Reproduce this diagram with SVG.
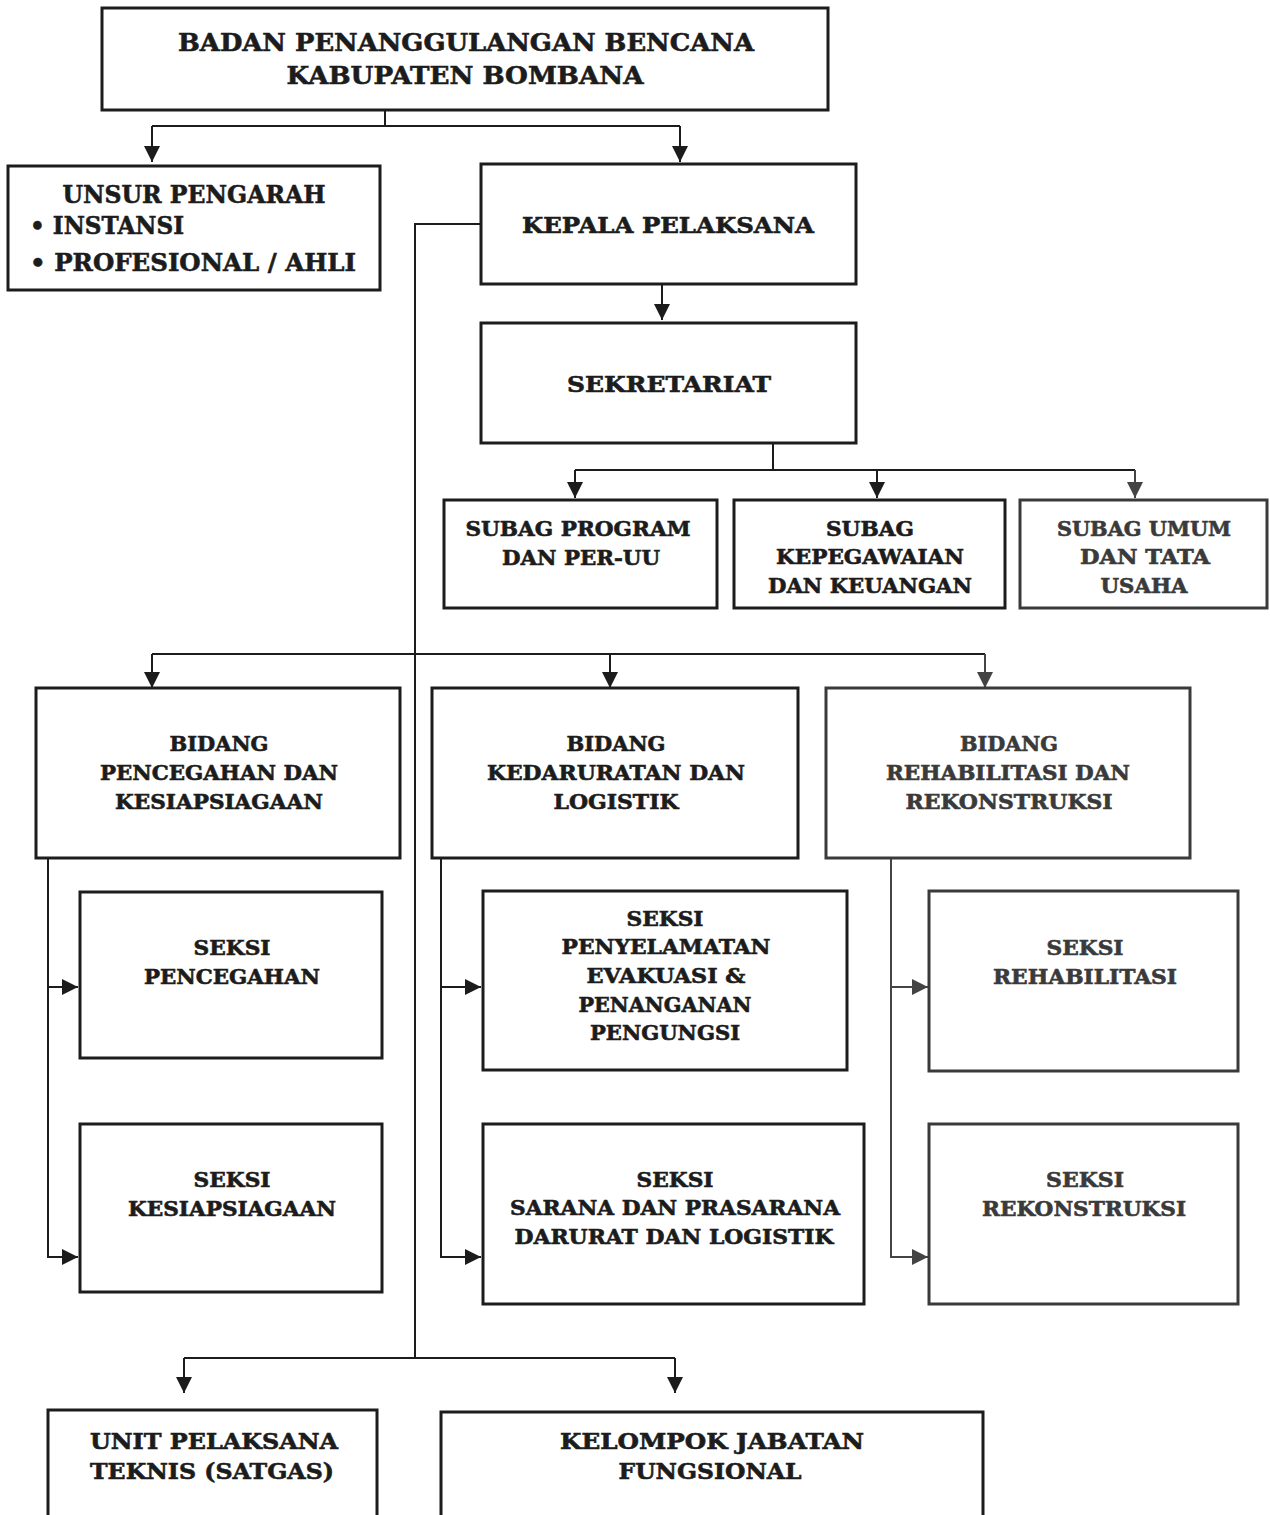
<svg xmlns="http://www.w3.org/2000/svg" width="1270" height="1515" viewBox="0 0 1270 1515">
<defs>
<style>
.box{fill:#fff;stroke:#1c1c1c;stroke-width:3}
.boxg{fill:#fff;stroke:#3a3a3a;stroke-width:3}
.ln{fill:none;stroke:#1c1c1c;stroke-width:2}
.lng{fill:none;stroke:#444;stroke-width:2}
text{font-family:"DejaVu Serif","Liberation Serif",serif;font-weight:bold;fill:#1c1c1c;stroke:#1c1c1c;stroke-width:0.6;text-anchor:middle}
.t25{font-size:25px}
.t22{font-size:22px}
.t20{font-size:20px}
.g{fill:#3a3a3a;stroke:#3a3a3a}
.st{text-anchor:start}
</style>
<marker id="ahd" viewBox="0 0 10 10" refX="10" refY="5" markerWidth="16" markerHeight="16" markerUnits="userSpaceOnUse" orient="auto">
<path d="M0,0 L10,5 L0,10 z" fill="#1c1c1c"/>
</marker>
<marker id="ahg" viewBox="0 0 10 10" refX="10" refY="5" markerWidth="16" markerHeight="16" markerUnits="userSpaceOnUse" orient="auto">
<path d="M0,0 L10,5 L0,10 z" fill="#444"/>
</marker>
</defs>
<rect width="1270" height="1515" fill="#fff"/>

<g id="connectors">
<path class="ln" d="M385,110 V126"/>
<path class="ln" d="M152,126 H680"/>
<path class="ln" d="M152,126 V162" marker-end="url(#ahd)"/>
<path class="ln" d="M680,126 V162" marker-end="url(#ahd)"/>
<path class="ln" d="M481,224 H415 V1358"/>
<path class="ln" d="M662,284 V320" marker-end="url(#ahd)"/>
<path class="ln" d="M773,443 V470"/>
<path class="ln" d="M575,470 H1135"/>
<path class="ln" d="M575,470 V498" marker-end="url(#ahd)"/>
<path class="ln" d="M877,470 V498" marker-end="url(#ahd)"/>
<path class="lng" d="M1135,470 V498" marker-end="url(#ahg)"/>
<path class="ln" d="M152,654 H985"/>
<path class="ln" d="M152,654 V688" marker-end="url(#ahd)"/>
<path class="ln" d="M610,654 V688" marker-end="url(#ahd)"/>
<path class="lng" d="M985,654 V688" marker-end="url(#ahg)"/>
<path class="ln" d="M48,858 V1257 H78" marker-end="url(#ahd)"/>
<path class="ln" d="M48,987 H78" marker-end="url(#ahd)"/>
<path class="ln" d="M441,858 V1257 H481" marker-end="url(#ahd)"/>
<path class="ln" d="M441,987 H481" marker-end="url(#ahd)"/>
<path class="lng" d="M891,858 V1257 H928" marker-end="url(#ahg)"/>
<path class="lng" d="M891,987 H928" marker-end="url(#ahg)"/>
<path class="ln" d="M184,1358 H675"/>
<path class="ln" d="M184,1358 V1393" marker-end="url(#ahd)"/>
<path class="ln" d="M675,1358 V1393" marker-end="url(#ahd)"/>
</g>

<g id="bpbd">
<rect class="box" x="102" y="8" width="726" height="102"/>
<text class="t25" x="466" y="51" textLength="576" lengthAdjust="spacingAndGlyphs">BADAN PENANGGULANGAN BENCANA</text>
<text class="t25" x="465" y="84" textLength="357" lengthAdjust="spacingAndGlyphs">KABUPATEN BOMBANA</text>
</g>

<g id="unsur-pengarah">
<rect class="box" x="8" y="166" width="372" height="124"/>
<text class="t25" x="194" y="203" textLength="263" lengthAdjust="spacingAndGlyphs">UNSUR PENGARAH</text>
<text class="t25 st" x="30" y="234" textLength="154" lengthAdjust="spacingAndGlyphs">• INSTANSI</text>
<text class="t25 st" x="30" y="271" textLength="326" lengthAdjust="spacingAndGlyphs">• PROFESIONAL / AHLI</text>
</g>

<g id="kepala-pelaksana">
<rect class="box" x="481" y="164" width="375" height="120"/>
<text class="t22" x="668" y="233" textLength="292" lengthAdjust="spacingAndGlyphs">KEPALA PELAKSANA</text>
</g>

<g id="sekretariat">
<rect class="box" x="481" y="323" width="375" height="120"/>
<text class="t22" x="669" y="392" textLength="204" lengthAdjust="spacingAndGlyphs">SEKRETARIAT</text>
</g>

<g id="subag-program">
<rect class="box" x="444" y="500" width="273" height="108"/>
<text class="t20" x="578" y="536" textLength="225" lengthAdjust="spacingAndGlyphs">SUBAG PROGRAM</text>
<text class="t20" x="581" y="565" textLength="158" lengthAdjust="spacingAndGlyphs">DAN PER-UU</text>
</g>

<g id="subag-kepegawaian">
<rect class="box" x="734" y="500" width="271" height="108"/>
<text class="t20" x="870" y="536" textLength="88" lengthAdjust="spacingAndGlyphs">SUBAG</text>
<text class="t20" x="870" y="564" textLength="188" lengthAdjust="spacingAndGlyphs">KEPEGAWAIAN</text>
<text class="t20" x="870" y="593" textLength="204" lengthAdjust="spacingAndGlyphs">DAN KEUANGAN</text>
</g>

<g id="subag-umum">
<rect class="boxg" x="1020" y="500" width="247" height="108"/>
<text class="t20 g" x="1144" y="536" textLength="174" lengthAdjust="spacingAndGlyphs">SUBAG UMUM</text>
<text class="t20 g" x="1145" y="564" textLength="130" lengthAdjust="spacingAndGlyphs">DAN TATA</text>
<text class="t20 g" x="1144" y="593" textLength="87" lengthAdjust="spacingAndGlyphs">USAHA</text>
</g>

<g id="bidang-pencegahan">
<rect class="box" x="36" y="688" width="364" height="170"/>
<text class="t20" x="219" y="751" textLength="99" lengthAdjust="spacingAndGlyphs">BIDANG</text>
<text class="t20" x="219" y="780" textLength="238" lengthAdjust="spacingAndGlyphs">PENCEGAHAN DAN</text>
<text class="t20" x="219" y="809" textLength="208" lengthAdjust="spacingAndGlyphs">KESIAPSIAGAAN</text>
</g>

<g id="bidang-kedaruratan">
<rect class="box" x="432" y="688" width="366" height="170"/>
<text class="t20" x="616" y="751" textLength="99" lengthAdjust="spacingAndGlyphs">BIDANG</text>
<text class="t20" x="616" y="780" textLength="258" lengthAdjust="spacingAndGlyphs">KEDARURATAN DAN</text>
<text class="t20" x="616" y="809" textLength="125" lengthAdjust="spacingAndGlyphs">LOGISTIK</text>
</g>

<g id="bidang-rehabilitasi">
<rect class="boxg" x="826" y="688" width="364" height="170"/>
<text class="t20 g" x="1009" y="751" textLength="98" lengthAdjust="spacingAndGlyphs">BIDANG</text>
<text class="t20 g" x="1008" y="780" textLength="244" lengthAdjust="spacingAndGlyphs">REHABILITASI DAN</text>
<text class="t20 g" x="1009" y="809" textLength="207" lengthAdjust="spacingAndGlyphs">REKONSTRUKSI</text>
</g>

<g id="seksi-pencegahan">
<rect class="box" x="80" y="892" width="302" height="166"/>
<text class="t20" x="232" y="955" textLength="77" lengthAdjust="spacingAndGlyphs">SEKSI</text>
<text class="t20" x="232" y="984" textLength="176" lengthAdjust="spacingAndGlyphs">PENCEGAHAN</text>
</g>

<g id="seksi-kesiapsiagaan">
<rect class="box" x="80" y="1124" width="302" height="168"/>
<text class="t20" x="232" y="1187" textLength="77" lengthAdjust="spacingAndGlyphs">SEKSI</text>
<text class="t20" x="232" y="1216" textLength="208" lengthAdjust="spacingAndGlyphs">KESIAPSIAGAAN</text>
</g>

<g id="seksi-penyelamatan">
<rect class="box" x="483" y="891" width="364" height="179"/>
<text class="t20" x="665" y="926" textLength="77" lengthAdjust="spacingAndGlyphs">SEKSI</text>
<text class="t20" x="666" y="954" textLength="209" lengthAdjust="spacingAndGlyphs">PENYELAMATAN</text>
<text class="t20" x="666" y="983" textLength="159" lengthAdjust="spacingAndGlyphs">EVAKUASI &amp;</text>
<text class="t20" x="665" y="1012" textLength="173" lengthAdjust="spacingAndGlyphs">PENANGANAN</text>
<text class="t20" x="665" y="1040" textLength="150" lengthAdjust="spacingAndGlyphs">PENGUNGSI</text>
</g>

<g id="seksi-sarana">
<rect class="box" x="483" y="1124" width="381" height="180"/>
<text class="t20" x="675" y="1187" textLength="77" lengthAdjust="spacingAndGlyphs">SEKSI</text>
<text class="t20" x="675" y="1215" textLength="330" lengthAdjust="spacingAndGlyphs">SARANA DAN PRASARANA</text>
<text class="t20" x="674" y="1244" textLength="319" lengthAdjust="spacingAndGlyphs">DARURAT DAN LOGISTIK</text>
</g>

<g id="seksi-rehabilitasi">
<rect class="boxg" x="929" y="891" width="309" height="180"/>
<text class="t20 g" x="1085" y="955" textLength="77" lengthAdjust="spacingAndGlyphs">SEKSI</text>
<text class="t20 g" x="1085" y="984" textLength="184" lengthAdjust="spacingAndGlyphs">REHABILITASI</text>
</g>

<g id="seksi-rekonstruksi">
<rect class="boxg" x="929" y="1124" width="309" height="180"/>
<text class="t20 g" x="1085" y="1187" textLength="78" lengthAdjust="spacingAndGlyphs">SEKSI</text>
<text class="t20 g" x="1084" y="1216" textLength="204" lengthAdjust="spacingAndGlyphs">REKONSTRUKSI</text>
</g>

<g id="unit-pelaksana-teknis">
<rect class="box" x="48" y="1410" width="329" height="120"/>
<text class="t22" x="214" y="1449" textLength="248" lengthAdjust="spacingAndGlyphs">UNIT PELAKSANA</text>
<text class="t22" x="212" y="1479" textLength="244" lengthAdjust="spacingAndGlyphs">TEKNIS (SATGAS)</text>
</g>

<g id="kelompok-jabatan-fungsional">
<rect class="box" x="441" y="1412" width="542" height="120"/>
<text class="t22" x="712" y="1449" textLength="304" lengthAdjust="spacingAndGlyphs">KELOMPOK JABATAN</text>
<text class="t22" x="710" y="1479" textLength="183" lengthAdjust="spacingAndGlyphs">FUNGSIONAL</text>
</g>
</svg>
